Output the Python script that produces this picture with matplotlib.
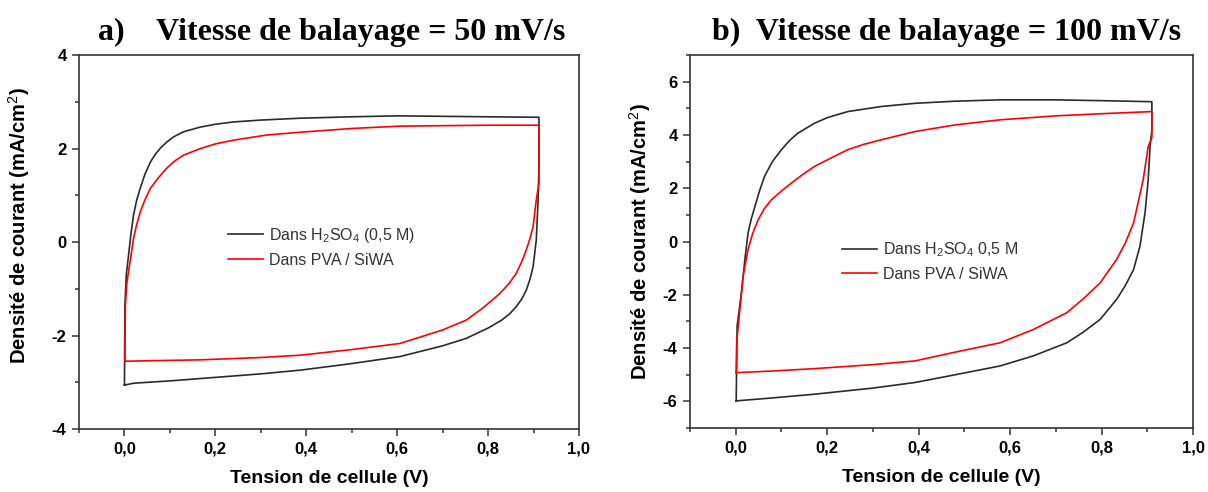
import matplotlib
matplotlib.use("Agg")
import matplotlib.pyplot as plt
from matplotlib.ticker import MultipleLocator, FuncFormatter

plt.rcParams['font.family'] = ['Liberation Sans', 'DejaVu Sans']
plt.rcParams['mathtext.fontset'] = 'custom'
plt.rcParams['mathtext.rm'] = 'Liberation Sans'
plt.rcParams['mathtext.it'] = 'Liberation Sans:italic'
plt.rcParams['mathtext.bf'] = 'Liberation Sans:bold'

# ---- Data: panel a (50 mV/s) ----
a_h2so4_v = [0.0, 0.001, 0.004, 0.009, 0.014, 0.02, 0.027, 0.035, 0.045, 0.057, 0.068, 0.079,
             0.093, 0.108, 0.13, 0.167, 0.2, 0.24, 0.3, 0.387, 0.5, 0.6, 0.7, 0.8, 0.912,
             0.912, 0.910, 0.906, 0.899, 0.892, 0.884, 0.874, 0.862, 0.848, 0.83, 0.8, 0.752,
             0.7, 0.606, 0.5, 0.387, 0.3, 0.167, 0.1, 0.02, 0.0]
a_h2so4_j = [-3.06, -1.35, -0.7, -0.28, 0.15, 0.58, 0.9, 1.16, 1.45, 1.71, 1.88, 2.01,
             2.14, 2.25, 2.36, 2.46, 2.52, 2.57, 2.61, 2.65, 2.68, 2.70, 2.69, 2.68, 2.67,
             1.61, 0.9, 0.04, -0.53, -0.8, -1.03, -1.22, -1.38, -1.53, -1.67, -1.84, -2.06,
             -2.22, -2.45, -2.6, -2.74, -2.82, -2.92, -2.97, -3.02, -3.06]

a_pva_v = [0.001, 0.002, 0.005, 0.009, 0.015, 0.02, 0.027, 0.035, 0.045, 0.057, 0.075, 0.093,
           0.11, 0.13, 0.167, 0.2, 0.24, 0.313, 0.387, 0.5, 0.606, 0.7, 0.8, 0.912,
           0.912, 0.906, 0.899, 0.892, 0.884, 0.874, 0.862, 0.845, 0.826, 0.79, 0.752, 0.7,
           0.606, 0.5, 0.387, 0.3, 0.167, 0.05, 0.001]
a_pva_j = [-2.55, -1.35, -0.9, -0.63, -0.25, 0.08, 0.38, 0.65, 0.9, 1.15, 1.38, 1.58,
           1.73, 1.86, 2.0, 2.1, 2.18, 2.29, 2.35, 2.43, 2.48, 2.49, 2.5, 2.5,
           1.26, 0.9, 0.33, 0.07, -0.17, -0.42, -0.67, -0.9, -1.1, -1.4, -1.67, -1.88,
           -2.17, -2.3, -2.42, -2.47, -2.52, -2.54, -2.55]

# ---- Data: panel b (100 mV/s) ----
b_h2so4_v = [0.001, 0.003, 0.0125, 0.02, 0.027, 0.034, 0.042, 0.052, 0.063, 0.08, 0.1, 0.118,
             0.136, 0.172, 0.2, 0.245, 0.318, 0.392, 0.48, 0.578, 0.7, 0.8, 0.91,
             0.91, 0.906, 0.902, 0.895, 0.884, 0.87, 0.852, 0.833, 0.797, 0.76, 0.724, 0.651,
             0.578, 0.48, 0.392, 0.3, 0.172, 0.08, 0.001]
b_h2so4_j = [-5.98, -3.17, -1.92, -0.67, 0.33, 0.85, 1.32, 1.9, 2.45, 3.0, 3.45, 3.8,
             4.07, 4.44, 4.65, 4.88, 5.07, 5.19, 5.27, 5.32, 5.32, 5.29, 5.25,
             4.2, 3.57, 2.32, 1.07, -0.17, -1.05, -1.65, -2.17, -2.92, -3.4, -3.8, -4.29,
             -4.67, -5.0, -5.29, -5.5, -5.73, -5.87, -5.98]

b_pva_v = [0.001, 0.002, 0.009, 0.016, 0.027, 0.037, 0.049, 0.062, 0.078, 0.1, 0.122, 0.145,
           0.172, 0.21, 0.245, 0.28, 0.318, 0.392, 0.48, 0.578, 0.7, 0.8, 0.91,
           0.91, 0.902, 0.891, 0.87, 0.852, 0.833, 0.797, 0.76, 0.724, 0.651, 0.578, 0.48,
           0.392, 0.3, 0.172, 0.08, 0.001]
b_pva_j = [-4.92, -3.8, -2.55, -1.3, -0.3, 0.3, 0.82, 1.22, 1.57, 1.9, 2.2, 2.5,
           2.82, 3.15, 3.45, 3.65, 3.82, 4.13, 4.38, 4.57, 4.72, 4.8, 4.88,
           3.9, 3.57, 2.32, 0.7, -0.05, -0.67, -1.55, -2.15, -2.67, -3.3, -3.8, -4.15,
           -4.48, -4.62, -4.77, -4.86, -4.92]

titles = ["a)    Vitesse de balayage = 50 mV/s", "b)  Vitesse de balayage = 100 mV/s"]
legend_h2so4 = [r"Dans H$_2$SO$_4$ (0,5 M)", r"Dans H$_2$SO$_4$ 0,5 M"]
legend_pva = "Dans PVA / SiWA"
xlabel = "Tension de cellule (V)"
ylabel = "Densité de courant (mA/cm$^2$)"

fig = plt.figure(figsize=(12.08, 4.92), dpi=100)
ax1 = fig.add_axes([0.0654, 0.128, 0.4139, 0.760])
ax2 = fig.add_axes([0.5712, 0.130, 0.4164, 0.758])

black = "#2b2b2b"
red = "#ff0000"
comma = FuncFormatter(lambda v, p: f"{v:.1f}".replace(".", ","))
intfmt = FuncFormatter(lambda v, p: f"{v:.0f}")

panels = [
    (ax1, a_h2so4_v, a_h2so4_j, a_pva_v, a_pva_j, (-4, 4), (0.298, 0.488), (-0.094, 0.545)),
    (ax2, b_h2so4_v, b_h2so4_j, b_pva_v, b_pva_j, (-7, 7), (0.302, 0.448), (-0.074, 0.5)),
]
for i, (ax, v1, j1, v2, j2, ylim, legpos, ylabpos) in enumerate(panels):
    ax.plot(v1, j1, color=black, lw=1.2, label=legend_h2so4[i])
    ax.plot(v2, j2, color=red, lw=1.2, label=legend_pva)
    ax.set_xlim(-0.1, 1.0)
    ax.set_ylim(*ylim)
    ax.xaxis.set_major_locator(MultipleLocator(0.2))
    ax.xaxis.set_minor_locator(MultipleLocator(0.1))
    ax.yaxis.set_major_locator(MultipleLocator(2))
    ax.yaxis.set_minor_locator(MultipleLocator(1))
    ax.xaxis.set_major_formatter(comma)
    ax.yaxis.set_major_formatter(intfmt)
    ax.tick_params(which='major', direction='out', length=5, width=1.1, color='#333333',
                   labelsize=12, pad=4)
    ax.tick_params(which='minor', direction='out', length=3, width=1.1, color='#333333')
    for lab in ax.get_xticklabels() + ax.get_yticklabels():
        lab.set_fontweight('bold')
    for s in ax.spines.values():
        s.set_linewidth(1.2)
        s.set_color('#333333')
    ax.set_xlabel(xlabel, fontsize=14, fontweight='bold', labelpad=10)
    ax.set_ylabel(ylabel, fontsize=14.5, fontweight='bold')
    ax.yaxis.set_label_coords(*ylabpos)
    leg = ax.legend(loc='center left', bbox_to_anchor=legpos, frameon=False, fontsize=11.5,
                    handlelength=2.2, handletextpad=0.35, labelspacing=0.5, borderaxespad=0,
                    borderpad=0)
    for t in leg.get_texts():
        t.set_color('#333333')

fig.text(0.0811, 0.919, titles[0], fontsize=23, fontweight='bold',
         family=['Liberation Serif'], ha='left', va='baseline')
fig.text(0.589, 0.919, titles[1], fontsize=23, fontweight='bold',
         family=['Liberation Serif'], ha='left', va='baseline')

fig.savefig("out.png", dpi=100)
